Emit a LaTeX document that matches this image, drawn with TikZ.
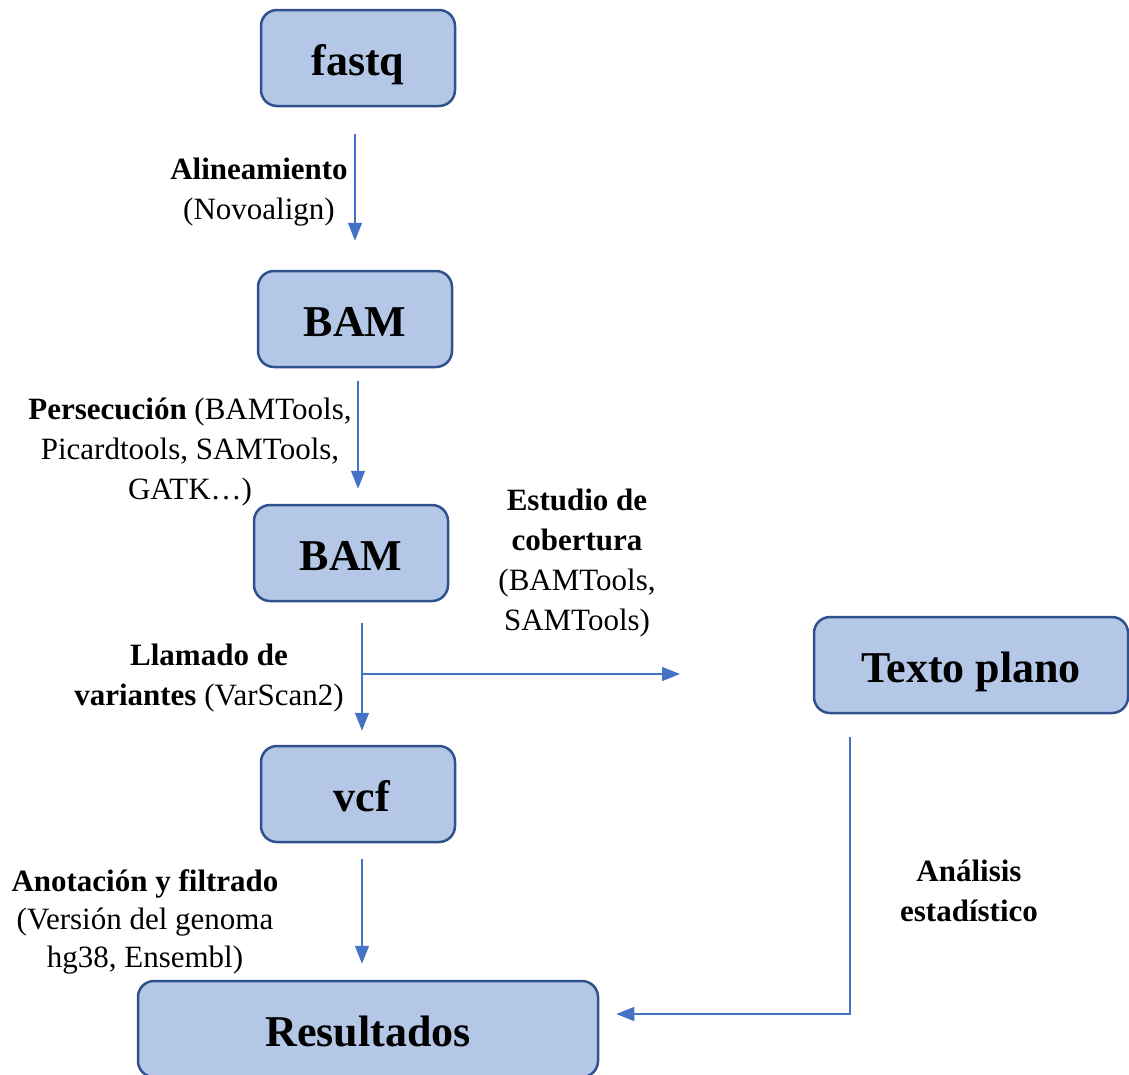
\documentclass[tikz,border=0pt]{standalone}
\usepackage{fontspec}
\setmainfont{Liberation Serif}
\usetikzlibrary{arrows.meta}
\definecolor{boxfill}{HTML}{B4C7E7}
\definecolor{boxline}{HTML}{2F528F}
\definecolor{arrowblue}{HTML}{4472C4}
\begin{document}
\begin{tikzpicture}[x=1pt,y=-1pt,
  box/.style={draw=boxline,fill=boxfill,line width=2.5pt,rounded corners=16pt,
    minimum height=96pt,inner sep=0pt,text height=36pt,text depth=2pt,
    font=\fontsize{44}{52}\selectfont\bfseries},
  lbl/.style={align=center,inner sep=0pt,font=\fontsize{31}{40}\selectfont},
  arr/.style={draw=arrowblue,line width=1.4pt,-{Triangle[length=18pt,width=14pt]}}]
\useasboundingbox (0,0) rectangle (1129,1074);

% process boxes
\node[box,minimum width=194pt] (fastq) at (358,58) {fastq};
\node[box,minimum width=194pt] (bam1) at (355,319) {BAM};
\node[box,minimum width=194pt] (bam2) at (351,553) {BAM};
\node[box,minimum width=194pt] (vcf) at (358,794) {\hspace*{8pt}vcf};
\node[box,minimum width=314pt] (texto) at (971,665) {Texto plano};
\node[box,minimum width=460pt] (res) at (368,1029) {Resultados};

% step labels
\node[lbl] (l1) at (259,192) {\textbf{Alineamiento}\\(Novoalign)};
\node[lbl] (l2) at (190,452) {\textbf{Persecución} (BAMTools,\\Picardtools, SAMTools,\\GATK…)};
\node[lbl] (l3) at (577,563) {\textbf{Estudio de}\\\textbf{cobertura}\\(BAMTools,\\SAMTools)};
\node[lbl] (l4) at (209,678) {\textbf{Llamado de}\\\textbf{variantes} (VarScan2)};
\node[lbl,font=\fontsize{31}{38}\selectfont] (l5) at (145,922) {\textbf{Anotación y filtrado}\\(Versión del genoma\\hg38, Ensembl)};
\node[lbl] (l6) at (969,891) {\textbf{Análisis}\\\textbf{estadístico}};

% connectors
\draw[arr] ([xshift=-3pt,yshift=-27pt]fastq.south) -- ([yshift=29pt]bam1.north);
\draw[arr] ([xshift=3pt,yshift=-13pt]bam1.south) -- ([xshift=7pt,yshift=15pt]bam2.north);
\draw[arr] ([xshift=11pt,yshift=-21pt]bam2.south) -- ([xshift=4pt,yshift=14pt]vcf.north);
\coordinate (split) at (362,674);
\coordinate (cov) at (680,674);
\draw[arr] (split) -- (cov);
\draw[arr] ([xshift=4pt,yshift=-16pt]vcf.south) -- ([xshift=-6pt,yshift=16pt]res.north);
\draw[arr] ([xshift=-121pt,yshift=-23pt]texto.south) |- ([xshift=17pt,yshift=15pt]res.east);
\end{tikzpicture}
\end{document}
